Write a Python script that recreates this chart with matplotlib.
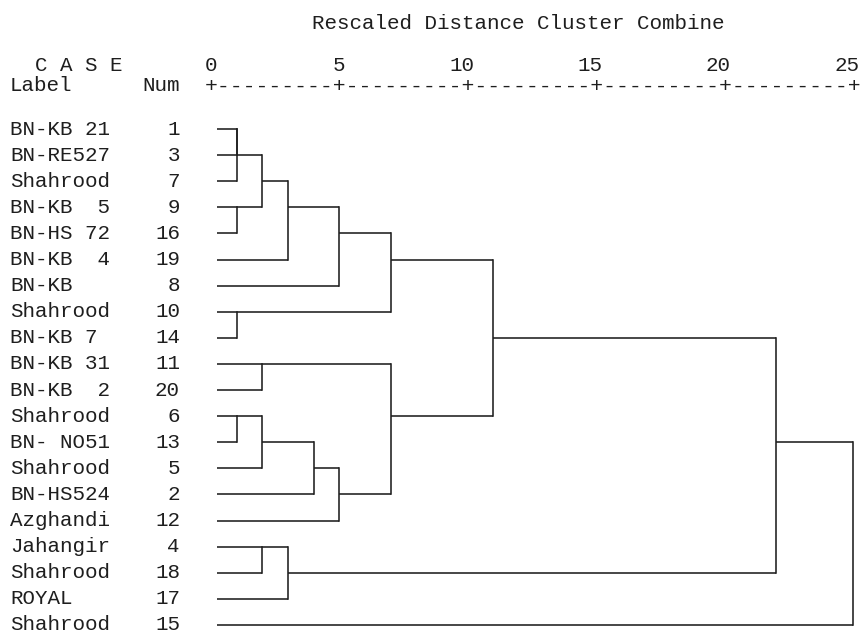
import matplotlib
matplotlib.use("Agg")
import matplotlib.pyplot as plt
import numpy as np

# ---- data ----
leaf_cases = [1, 3, 7, 9, 16, 19, 8, 10, 14, 11, 20, 6, 13, 5, 2, 12, 4, 18, 17, 15]
leaf_labels = ["BN-KB 21", "BN-RE527", "Shahrood", "BN-KB  5", "BN-HS 72",
               "BN-KB  4", "BN-KB", "Shahrood", "BN-KB 7", "BN-KB 31",
               "BN-KB  2", "Shahrood", "BN- NO51", "Shahrood", "BN-HS524",
               "Azghandi", "Jahangir", "Shahrood", "ROYAL", "Shahrood"]
# agglomeration: (case a, case b, rescaled distance)
merge_a = [1, 1, 9, 10, 6, 1, 11, 6, 4, 1, 4, 6, 1, 6, 1, 11, 1, 1, 1]
merge_b = [3, 7, 16, 14, 13, 9, 20, 5, 18, 19, 17, 2, 8, 12, 10, 6, 11, 4, 15]
merge_h = [1.0, 1.0, 1.0, 1.0, 1.0, 2.0, 2.0, 2.0, 2.0, 3.0, 3.0, 4.0, 5.0, 5.0,
           7.0, 7.0, 11.0, 22.0, 25.0]
tick_values = [0, 5, 10, 15, 20, 25]
title = "Rescaled Distance Cluster Combine"

# ---- geometry of the figure (pixel mapping) ----
W, H, DPI = 861, 633, 100
X0, UNIT = 211.0, 25.68          # pixel of distance 0, pixels per unit
Y0, ROW = 129.0, 26.105          # pixel of first row, pixels per row
LEAF_START = 0.22
FONT = "Liberation Mono"
FS = 15
col = "#1e1e1e"

fig = plt.figure(figsize=(W / DPI, H / DPI), dpi=DPI)
ax = fig.add_axes([0, 0, 1, 1])
ax.set_xlim(-X0 / UNIT, (W - X0) / UNIT)
ax.set_ylim((H - Y0) / ROW, -Y0 / ROW)
ax.axis("off")

def py(p):  # pixel y -> row coord
    return (p - Y0) / ROW

def px(p):  # pixel x -> unit coord
    return (p - X0) / UNIT

# ---- dendrogram ----
clusters = {c: {"y": i, "x": LEAF_START} for i, c in enumerate(leaf_cases)}
owner = {c: c for c in leaf_cases}

def find(c):
    while owner[c] != c:
        c = owner[c]
    return c

lw = 1.15
for a, b, h in zip(merge_a, merge_b, merge_h):
    ra, rb = find(a), find(b)
    ca, cb = clusters[ra], clusters[rb]
    ax.plot([ca["x"], h], [ca["y"], ca["y"]], color=col, lw=lw, solid_capstyle="butt")
    ax.plot([cb["x"], h], [cb["y"], cb["y"]], color=col, lw=lw, solid_capstyle="butt")
    y1, y2 = sorted([ca["y"], cb["y"]])
    ax.plot([h, h], [y1, y2], color=col, lw=lw, solid_capstyle="projecting")
    newy = int(np.floor((ca["y"] + cb["y"]) / 2))
    owner[rb] = ra
    clusters[ra] = {"y": newy, "x": h}

# ---- labels ----
for i, (lab, num) in enumerate(zip(leaf_labels, leaf_cases)):
    ax.text(px(10), i, lab, family=FONT, fontsize=FS, color=col, ha="left", va="center")
    ax.text(px(180), i, str(num), family=FONT, fontsize=FS, color=col, ha="right", va="center")

# ---- header ----
ax.text(px(518), py(23), title, family=FONT, fontsize=FS, color=col, ha="center", va="center")
ax.text(px(35), py(65), "C A S E", family=FONT, fontsize=FS, color=col, ha="left", va="center")
ax.text(px(10), py(85), "Label", family=FONT, fontsize=FS, color=col, ha="left", va="center")
ax.text(px(180), py(85), "Num", family=FONT, fontsize=FS, color=col, ha="right", va="center")

char_u = 0.6 * FS / 72 * DPI / UNIT
for t in tick_values:
    s = str(t)
    ax.text(t - (len(s) - 1) * char_u / 2, py(65), s, family=FONT, fontsize=FS,
            color=col, ha="center", va="center")

# ruler: '+' at every tick, nine dashes between
ruler = "+" + "+".join(["-" * 9] * (len(tick_values) - 1)) + "+"
step = (tick_values[-1] - tick_values[0]) / (len(ruler) - 1)   # units per char
rfs = step * UNIT / 0.6 * 72 / DPI
ax.text(tick_values[0] - step / 2, py(86), ruler, family=FONT, fontsize=rfs,
        color=col, ha="left", va="center")

fig.savefig("out.png", dpi=DPI, facecolor="white")
